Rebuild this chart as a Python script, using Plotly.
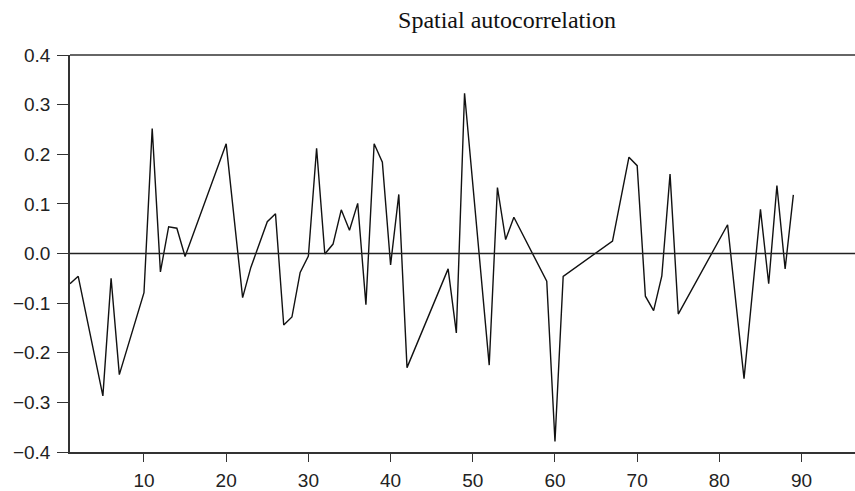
import plotly.graph_objects as go

x_vals = [1, 2, 5, 6, 7, 10, 11, 12, 13, 14, 15, 20, 22, 23, 25, 26, 27, 28, 29, 30,
          31, 32, 33, 34, 35, 36, 37, 38, 39, 40, 41, 42, 47, 48, 49, 52, 53, 54, 55,
          59, 60, 61, 67, 69, 70, 71, 72, 73, 74, 75, 81, 83, 85, 86, 87, 88, 89]
y_vals = [-0.061, -0.046, -0.287, -0.050, -0.244, -0.079, 0.252, -0.037, 0.054, 0.051,
          -0.006, 0.221, -0.089, -0.028, 0.064, 0.080, -0.144, -0.128, -0.038, -0.005,
          0.212, -0.001, 0.019, 0.088, 0.047, 0.101, -0.103, 0.221, 0.184, -0.023,
          0.119, -0.230, -0.031, -0.160, 0.323, -0.225, 0.133, 0.028, 0.073,
          -0.056, -0.379, -0.046, 0.025, 0.194, 0.177, -0.086, -0.115, -0.045, 0.160,
          -0.122, 0.058, -0.252, 0.089, -0.061, 0.137, -0.031, 0.118]

x_ticks = [10, 20, 30, 40, 50, 60, 70, 80, 90]
y_ticks = [-0.4, -0.3, -0.2, -0.1, 0.0, 0.1, 0.2, 0.3, 0.4]
title_text = "Spatial autocorrelation"

fig = go.Figure()
fig.add_trace(go.Scatter(x=x_vals, y=y_vals, mode="lines",
                         line=dict(color="#111111", width=1.4), showlegend=False))

fig.add_hline(y=0, line=dict(color="#222222", width=1.3))

fig.update_layout(
    width=855, height=491,
    margin=dict(l=70, r=0, t=55, b=37),
    paper_bgcolor="white", plot_bgcolor="white",
    title=dict(text=title_text, x=507 / 855, xanchor="center", y=1 - 20 / 491, yanchor="middle",
               font=dict(family="Liberation Serif", size=24, color="#111111")),
    font=dict(family="Liberation Sans", size=19, color="#222222"),
)
fig.update_xaxes(range=[1, 96.5], tickvals=x_ticks, ticks="outside", ticklen=8, tickwidth=1.4,
                 tickcolor="#333333", showgrid=False, zeroline=False, showline=True,
                 linecolor="#333333", linewidth=1.6, mirror=False, ticklabelstandoff=2)
fig.update_yaxes(range=[-0.4, 0.4], tickvals=y_ticks, tickformat=".1f", ticks="outside",
                 ticklen=11, tickwidth=1.4, tickcolor="#333333", showgrid=False,
                 zeroline=False, showline=True, linecolor="#333333", linewidth=1.6,
                 mirror=False, ticklabelstandoff=3)
# top border line
fig.add_shape(type="line", xref="paper", yref="paper", x0=0, x1=1, y0=1, y1=1,
              line=dict(color="#333333", width=1.6))

fig.write_html("out.html")
